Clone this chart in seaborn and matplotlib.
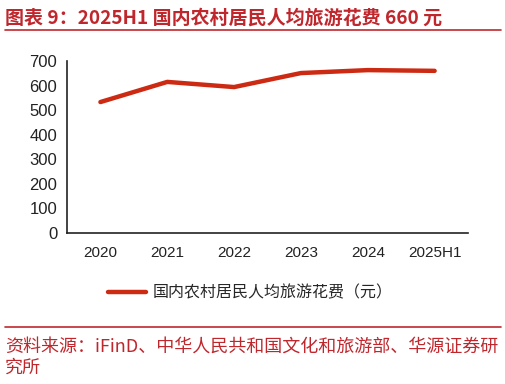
import pandas as pd
import numpy as np
import matplotlib.pyplot as plt
import seaborn as sns
from matplotlib.lines import Line2D

# Data
periods = ['2020', '2021', '2022', '2023', '2024', '2025H1']
spend = [533, 615, 594, 651, 663, 660]
series_name = '国内农村居民人均旅游花费（元）'

df = pd.DataFrame({'period': periods, 'spend': spend})
df['pos'] = np.arange(len(periods))

sns.set_style('white')
plt.rcParams['font.family'] = ['Liberation Sans', 'Noto Sans CJK SC', 'DejaVu Sans']

red = '#C0272D'
line_red = '#CC2A12'

fig = plt.figure(figsize=(5.06, 3.84), dpi=100)
ax = fig.add_axes([0.1324, 0.3932, 0.7926, 0.4479])

sns.lineplot(data=df, x='pos', y='spend', ax=ax, color=line_red, linewidth=3.2,
             label=series_name, legend=False)

ax.set_xlim(-0.5, len(periods) - 0.5)
ax.set_ylim(0, 700)
ax.set_yticks(range(0, 701, 100))
ax.set_xticks(df['pos'])
ax.set_xticklabels(periods)
ax.set_xticks(np.arange(-0.5, len(periods), 1), minor=True)
ax.tick_params(axis='x', which='major', length=0, pad=9, labelsize=11, colors='#222222')
ax.tick_params(axis='x', which='minor', length=5, width=1, direction='out', color='#222222')
ax.tick_params(axis='y', length=5, width=1, direction='out', labelsize=12,
               colors='#222222', pad=2)
ax.set_xlabel('')
ax.set_ylabel('')
for side in ['top', 'right']:
    ax.spines[side].set_visible(False)
for side in ['left', 'bottom']:
    ax.spines[side].set_color('#222222')
    ax.spines[side].set_linewidth(1.2)

handle = Line2D([], [], color=line_red, linewidth=3.2)
fig.legend([handle], [series_name], loc='center',
           bbox_to_anchor=(0.495, 0.237), frameon=False, handlelength=2.4,
           handletextpad=0.4, prop={'family': ['Noto Sans CJK SC'], 'size': 11.5})

# Title and decorative rules
fig.text(0.01, 0.952, '图表 9：2025H1 国内农村居民人均旅游花费 660 元', color=red,
         fontsize=13.7, fontweight='bold', family=['Noto Sans CJK SC'], va='center')
fig.add_artist(Line2D([0.01, 0.99], [0.923, 0.923], color=red, linewidth=1.2))
fig.add_artist(Line2D([0.01, 0.99], [0.148, 0.148], color=red, linewidth=1.2))
fig.text(0.01, 0.095, '资料来源：iFinD、中华人民共和国文化和旅游部、华源证券研',
         color=red, fontsize=13, family=['Noto Sans CJK SC'], va='center')
fig.text(0.01, 0.042, '究所', color=red, fontsize=13,
         family=['Noto Sans CJK SC'], va='center')

fig.savefig('out.png', dpi=100)
